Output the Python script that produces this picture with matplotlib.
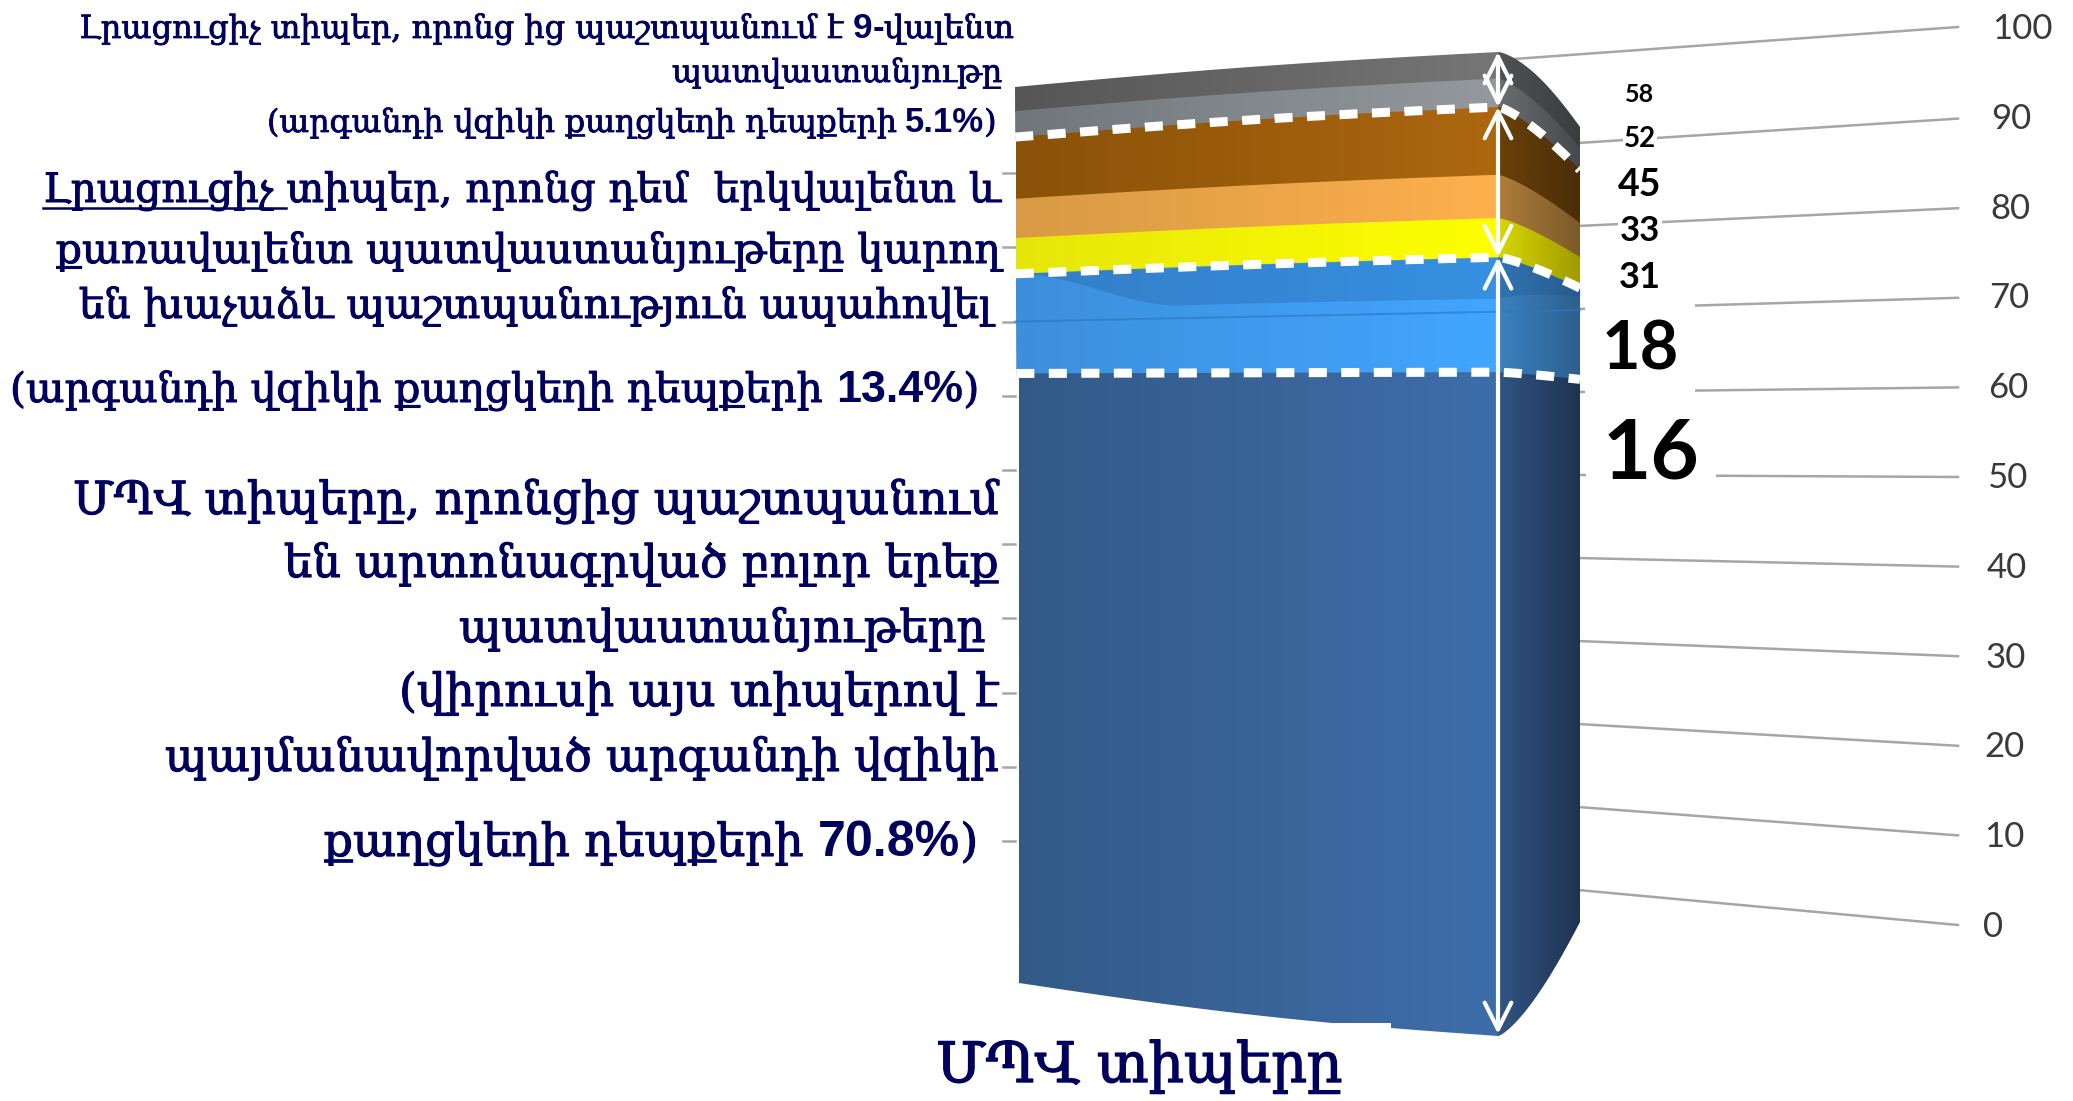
import numpy as np
import matplotlib
matplotlib.use("Agg")
import matplotlib.pyplot as plt
import matplotlib.patheffects as pe
from matplotlib.patches import Rectangle, Polygon
from matplotlib.colors import to_rgb

# HPV types, bottom to top, read on the 0-100 axis
hpv_types = ["16", "18", "31", "33", "45", "52", "58"]
type_values = [67.4, 11.7, 4.0, 4.4, 6.9, 2.9, 2.7]
axis_ticks = [0, 10, 20, 30, 40, 50, 60, 70, 80, 90, 100]

front_left = ["#335a87", "#3d8fdc", "#e6e60a", "#d89a45", "#8a5208", "#70777a", "#565656"]
front_right = ["#3e6eaa", "#42a6ff", "#ffff00", "#ffb04d", "#ad670f", "#95999d", "#767676"]
side_left = ["#305585", "#3a82c0", "#d8d800", "#b07d3a", "#6b4008", "#6a6e70", "#505254"]
side_right = ["#1f3350", "#2e5f8e", "#a09a00", "#7a5a2a", "#4a2e08", "#45494b", "#3a3c3e"]

type_sizes = [60, 48, 26, 25, 27, 20, 18]
type_label_x = [1651, 1640, 1640, 1640, 1640, 1640, 1639]
type_label_y = [455, 350, 278, 231, 185, 139, 94]
type_label_pad = [12, 12, 1, 1, 1, 1, 1]

NAVY = "#00005f"
ARM = "DejaVu Serif"
NUM = "Liberation Sans"

# right edge, baseline, width in px, runs of (text, is number)
left_lines = [
    (1014, 38, 935, [("Լրացուցիչ տիպեր, որոնց ից պաշտպանում է ", 0), ("9", 1), ("-", 1), ("վալենտ", 0)]),
    (1002, 82, 330, [("պատվաստանյութը", 0)]),
    (998, 132, 731, [("(արգանդի վզիկի քաղցկեղի դեպքերի ", 0), ("5.1%", 1), (")", 0)]),
    (1000, 202, 957, [("Լրացուցիչ ", 0), ("տիպեր, որոնց դեմ  երկվալենտ և", 0)]),
    (1000, 263, 944, [("քառավալենտ պատվաստանյութերը կարող", 0)]),
    (991, 318, 912, [("են խաչաձև պաշտպանություն ապահովել", 0)]),
    (978, 402, 968, [("(արգանդի վզիկի քաղցկեղի դեպքերի ", 0), ("13.4%", 1), (")", 0)]),
    (998, 514, 925, [("ՄՊՎ տիպերը, որոնցից պաշտպանում", 0)]),
    (998, 577, 714, [("են արտոնագրված բոլոր երեք", 0)]),
    (985, 642, 526, [("պատվաստանյութերը", 0)]),
    (998, 706, 599, [("(վիրուսի այս տիպերով է", 0)]),
    (998, 771, 833, [("պայմանավորված արգանդի վզիկի", 0)]),
    (978, 856, 654, [("քաղցկեղի դեպքերի ", 0), ("70.8%", 1), (")", 0)]),
]
x_title = "ՄՊՎ տիպերը"

FRONT_X = 1498
SIDE_W = 82


def left_x(v):
    return 1019 - 4 * v / 100


def front_y(v, t):
    # left edge sits a little higher around the 16/18 boundary
    yl = 981 - 894 * v / 100 - 5 * np.exp(-((v - 67) / 6) ** 2)
    yf = 1034 - 982 * v / 100
    return yl + (yf - yl) * t - (-6 + 9 * v / 100) * np.sin(np.pi * t)


def side_y(v, t):
    yf = 1034 - 982 * v / 100
    yr = 920 - 793 * v / 100 - 7 * v * (100 - v) / 2500
    k = -3 * (1 - v / 100) ** 3 + 5 * (v / 100) ** 40
    return yf + (yr - yf) * t ** 1.3 - k * np.sin(np.pi * t)


def front_curve(v, n=100):
    t = np.linspace(0, 1, n + 1)
    return left_x(v) + (FRONT_X - left_x(v)) * t, front_y(v, t)


def side_curve(v, n=40):
    t = np.linspace(0, 1, n + 1)
    return FRONT_X + SIDE_W * t, side_y(v, t)


def fill_band(x0, y0, x1, y1, c0, c1):
    # horizontal gradient clipped to the band between two curves, 2 px overlap under it
    w = np.linspace(0, 1, 256)[:, None]
    grad = np.array(to_rgb(c0)) * (1 - w) + np.array(to_rgb(c1)) * w
    im = ax.imshow(grad[None, :, :], extent=(x0[0], x0[-1], 1101, 0), aspect="auto",
                   interpolation="bilinear", zorder=3)
    pts = np.vstack([np.column_stack([x0, y0 + 2]), np.column_stack([x1[::-1], y1[::-1]])])
    im.set_clip_path(Polygon(pts, transform=ax.transData))


fig = plt.figure(figsize=(20.73, 11.01), dpi=100)
ax = fig.add_axes([0, 0, 1, 1])
ax.set_xlim(0, 2073)
ax.set_ylim(1101, 0)
ax.set_autoscale_on(False)
ax.axis("off")

# leader lines, they run behind the column
for v in axis_ticks:
    end_y = 925 - 8.96 * v
    mid_y = 890 - 8.3 * v
    if v == 100:
        ax.plot([1514, 1958], [59, end_y - 2], color="#a6a6a6", lw=1.8, zorder=1)
    else:
        ax.plot([1003, 1015], [841 - 7.42 * v, 841 - 7.42 * v], color="#a6a6a6", lw=1.8, zorder=1)
        ax.plot([1578, 1958], [mid_y, end_y], color="#a6a6a6", lw=1.8, zorder=1)
    ax.text(1983 + 9 * v / 100, 927 - 8.98 * v, str(v), family="Lato", fontsize=25, color="#3a3a3a",
            ha="left", va="center", zorder=2)

# column, built from the stacked values, top band first so each seam is covered
edges = np.concatenate([[0], np.cumsum(type_values)])
for i in range(len(type_values) - 1, -1, -1):
    x0, y0 = front_curve(edges[i])
    x1, y1 = front_curve(edges[i + 1])
    fill_band(x0, y0, x1, y1, front_left[i], front_right[i])
    x0, y0 = side_curve(edges[i])
    x1, y1 = side_curve(edges[i + 1])
    fill_band(x0, y0, x1, y1, side_left[i], side_right[i])

# darker shading under the top of the type 18 band
x, y = front_curve(edges[2])
t = np.linspace(0, 1, len(x))
s = np.clip(t / 0.34, 0, 1)
depth = (3 * s ** 2 - 2 * s ** 3) * 36 + 5 * t
ax.fill_between(x, y, y + depth, color="#174f8a", alpha=0.25, lw=0, zorder=4)
x, y = side_curve(edges[2])
t = np.linspace(0, 1, len(x))
ax.fill_between(x, y, y + 41 - 33 * t, color="#174f8a", alpha=0.25, lw=0, zorder=4)
ax.plot([1015, 1580], [841 - 7.42 * 70, 310], color="#2a78c0", alpha=0.6, lw=1.5, zorder=4)

# dashed boundaries between the three groups
for v in [edges[1], edges[2], edges[5]]:
    xf, yf = front_curve(v)
    xs, ys = side_curve(v)
    ax.plot(np.concatenate([xf, xs[1:]]), np.concatenate([yf, ys[1:]]), color="white", lw=6.5,
            dashes=(2.0, 1.6), dash_capstyle="butt", zorder=5)

# white arrows on the front corner
arrow_stops = [edges[7], edges[5], edges[2], edges[0]]
for a, b in zip(arrow_stops[:-1], arrow_stops[1:]):
    ax.annotate("", xy=(FRONT_X, front_y(b, 1.0)), xytext=(FRONT_X, front_y(a, 1.0)), zorder=6,
                arrowprops=dict(arrowstyle="<->,head_length=0.4,head_width=0.2", mutation_scale=48,
                                color="white", lw=3, shrinkA=0, shrinkB=0))

# piece of white box from the original slide cuts the column
ax.add_patch(Rectangle((900, 1023), 491, 78, facecolor="white", edgecolor="none", zorder=7))

# HPV type labels
for name, size, lx, ly, pad in zip(hpv_types, type_sizes, type_label_x, type_label_y, type_label_pad):
    ax.text(lx, ly, name, family="Lato", weight="bold", fontsize=size, color="black",
            ha="center", va="center", zorder=8,
            bbox=dict(facecolor="white", edgecolor="none", pad=pad))

renderer = fig.canvas.get_renderer()


def put_line(right, base, width, runs, size_guess=30):
    items = []
    for text, is_num in runs:
        if is_num:
            item = ax.text(0, base, text, family=NUM, weight="bold", fontsize=size_guess * 1.1,
                           color=NAVY, ha="left", va="baseline", zorder=9)
        else:
            item = ax.text(0, base, text, family=ARM, fontsize=size_guess,
                           color=NAVY, ha="left", va="baseline", zorder=9)
        items.append((item, is_num))
    total = sum(it.get_window_extent(renderer).width for it, _ in items)
    size = size_guess * width / total
    for it, is_num in items:
        it.set_fontsize(size * 1.1 if is_num else size)
        if not is_num:
            it.set_path_effects([pe.withStroke(linewidth=size * 0.025, foreground=NAVY)])
    x = right - width
    spans = []
    for it, _ in items:
        it.set_x(x)
        w = it.get_window_extent(renderer).width
        spans.append((x, x + w))
        x += w
    return spans


for right, base, width, runs in left_lines:
    spans = put_line(right, base, width, runs)
    if runs[0][0] == "Լրացուցիչ " and len(runs) == 2:
        ax.plot(spans[0], [base + 6, base + 6], color=NAVY, lw=1.8, zorder=9)

put_line(1342, 1082, 406, [(x_title, 0)], size_guess=40)

fig.savefig("out.png", dpi=100)
